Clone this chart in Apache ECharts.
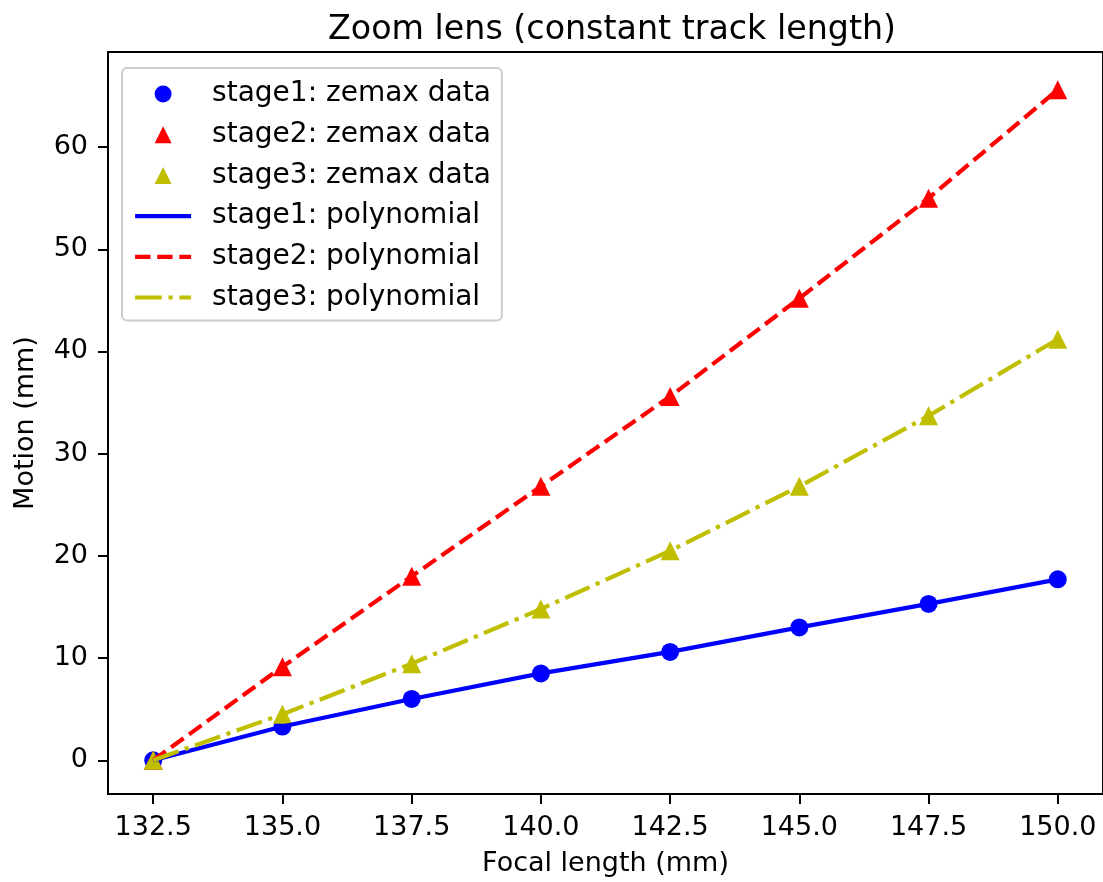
<!DOCTYPE html>
<html>
<head>
<meta charset="utf-8">
<script src="https://cdn.jsdelivr.net/npm/echarts@6/dist/echarts.min.js"></script>
<style>
html,body{margin:0;padding:0;background:#fff;}
#chart{width:1103px;height:882px;}
</style>
</head>
<body>
<div id="chart"></div>
<script>
const focalLength = [132.5, 135.0, 137.5, 140.0, 142.5, 145.0, 147.5, 150.0];
const stage1Zemax = [0, 3.3, 6.0, 8.5, 10.6, 13.0, 15.3, 17.7];
const stage2Zemax = [0, 9.15, 18.0, 26.8, 35.6, 45.2, 55.0, 65.6];
const stage3Zemax = [0, 4.5, 9.45, 14.8, 20.5, 26.8, 33.7, 41.2];
const stage1Poly = [0, 3.3, 6.0, 8.5, 10.6, 13.0, 15.3, 17.7];
const stage2Poly = [0, 9.15, 18.0, 26.8, 35.6, 45.2, 55.0, 65.6];
const stage3Poly = [0, 4.5, 9.45, 14.8, 20.5, 26.8, 33.7, 41.2];
const xTicks = [132.5, 135.0, 137.5, 140.0, 142.5, 145.0, 147.5, 150.0];
const yTicks = [0, 10, 20, 30, 40, 50, 60];
const seriesNames = [
  'stage1: zemax data', 'stage2: zemax data', 'stage3: zemax data',
  'stage1: polynomial', 'stage2: polynomial', 'stage3: polynomial'
];

const pair = ys => focalLength.map((x, i) => [x, ys[i]]);
const FONT = 'DejaVu Sans';
const YEL = '#bfbf00';
const TRI = 'path://M0,-1L1,1L-1,1Z';

const legendData = seriesNames.map((n, i) => {
  if (i === 0) return {name: n, icon: 'circle'};
  if (i < 3) return {name: n, icon: TRI};
  return {name: n, itemStyle: {opacity: 0, borderWidth: 0}, lineStyle: {width: 4.2}};
});

const chart = echarts.init(document.getElementById('chart'), null, {renderer: 'canvas'});
chart.setOption({
  animation: false,
  backgroundColor: '#ffffff',
  title: {
    text: 'Zoom lens (constant track length)',
    left: 323, top: 9,
    textStyle: {fontFamily: FONT, fontSize: 33.3, fontWeight: 'normal', color: '#000'}
  },
  grid: {
    left: 108, top: 52, width: 999, height: 744,
    show: true, borderColor: '#000', borderWidth: 2, backgroundColor: 'transparent'
  },
  legend: {
    orient: 'vertical', left: 122, top: 68,
    data: legendData,
    itemWidth: 56, itemHeight: 17, itemGap: 10.7,
    padding: [11, 11, 8, 11],
    symbolKeepAspect: true,
    backgroundColor: 'rgba(255,255,255,0.8)',
    borderColor: '#cccccc', borderWidth: 2, borderRadius: 5,
    textStyle: {fontFamily: FONT, fontSize: 28, color: '#000', lineHeight: 30, padding: [0, 0, 0, 16]}
  },
  xAxis: {
    type: 'value', min: 131.625, max: 150.875,
    name: 'Focal length (mm)', nameLocation: 'middle', nameGap: 56,
    nameTextStyle: {fontFamily: FONT, fontSize: 27, color: '#000'},
    axisLine: {show: true, onZero: false, lineStyle: {color: '#000', width: 2}},
    axisTick: {show: true, length: 10, lineStyle: {color: '#000', width: 2}, customValues: xTicks},
    axisLabel: {fontFamily: FONT, fontSize: 27, color: '#000', margin: 20, customValues: xTicks,
      formatter: v => Number(v).toFixed(1)},
    splitLine: {show: false}
  },
  yAxis: {
    type: 'value', min: -3.3, max: 69.3,
    name: 'Motion (mm)', nameLocation: 'middle', nameGap: 69,
    nameTextStyle: {fontFamily: FONT, fontSize: 27, color: '#000'},
    axisLine: {show: true, onZero: false, lineStyle: {color: '#000', width: 2}},
    axisTick: {show: true, length: 10, lineStyle: {color: '#000', width: 2}, customValues: yTicks},
    axisLabel: {fontFamily: FONT, fontSize: 27, color: '#000', margin: 20, customValues: yTicks},
    splitLine: {show: false}
  },
  series: [
    {name: seriesNames[0], type: 'scatter', data: pair(stage1Zemax), symbol: 'circle', symbolSize: 18,
      itemStyle: {color: '#0000ff', opacity: 1}, z: 2},
    {name: seriesNames[1], type: 'scatter', data: pair(stage2Zemax), symbol: 'triangle', symbolSize: 19,
      itemStyle: {color: '#ff0000', opacity: 1}, z: 2},
    {name: seriesNames[2], type: 'scatter', data: pair(stage3Zemax), symbol: 'triangle', symbolSize: 19,
      itemStyle: {color: YEL, opacity: 1}, z: 2},
    {name: seriesNames[3], type: 'line', data: pair(stage1Poly), symbol: 'none', showSymbol: false,
      lineStyle: {color: '#0000ff', width: 4.2, type: 'solid'}, itemStyle: {color: '#0000ff'}, z: 3},
    {name: seriesNames[4], type: 'line', data: pair(stage2Poly), symbol: 'none', showSymbol: false,
      lineStyle: {color: '#ff0000', width: 4.2, type: [15.4, 6.7]}, itemStyle: {color: '#ff0000'}, z: 3},
    {name: seriesNames[5], type: 'line', data: pair(stage3Poly), symbol: 'none', showSymbol: false,
      lineStyle: {color: YEL, width: 4.2, type: [26.7, 6.7, 4.2, 6.7]}, itemStyle: {color: YEL}, z: 3}
  ]
});
</script>
</body>
</html>
